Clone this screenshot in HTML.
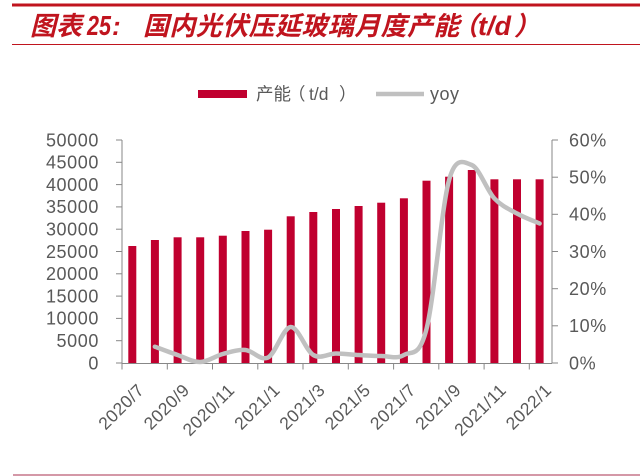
<!DOCTYPE html>
<html><head><meta charset="utf-8"><style>
html,body{margin:0;padding:0;background:#fff;}
svg{display:block;}
.t{font-family:"Liberation Sans","Noto Sans CJK SC",sans-serif;fill:#595959;}
.ti{font-family:"Liberation Sans","Noto Sans CJK SC",sans-serif;fill:#c0141e;font-weight:bold;font-style:italic;}
</style></head><body>
<svg width="640" height="476" viewBox="0 0 640 476" xmlns="http://www.w3.org/2000/svg">
<rect x="0" y="0" width="640" height="476" fill="#fff"/>
<!-- header lines -->
<rect x="12" y="3.5" width="628" height="3" fill="#c0141e"/>
<rect x="12" y="44" width="628" height="1" fill="#c0141e"/>
<rect x="13" y="474.5" width="627" height="1" fill="#a8324f"/>
<!-- title -->
<text class="ti" x="30" y="35" font-size="26">图表</text>
<text class="ti" transform="translate(87,35) scale(0.77,1)" font-size="28">25</text>
<text class="ti" x="112" y="35" font-size="26">:</text>
<text class="ti" x="143" y="35" font-size="26" letter-spacing="0.4">国内光伏压延玻璃月度产能</text>
<text class="ti" x="452" y="35" font-size="26">（</text>
<text class="ti" x="478" y="35" font-size="27">t/d</text>
<text class="ti" x="514" y="35" font-size="26">）</text>
<!-- legend -->
<rect x="198" y="90" width="49" height="8" fill="#c0002f"/>
<text class="t" x="256" y="100" font-size="17.5">产能</text>
<text class="t" x="288" y="100" font-size="17.5">（</text>
<text class="t" x="309" y="100" font-size="17.5">t/d</text>
<text class="t" x="339" y="100" font-size="17.5">）</text>
<line x1="376" y1="94" x2="424" y2="94" stroke="#c0c0c0" stroke-width="4.5"/>
<text class="t" x="430" y="100" font-size="18" letter-spacing="0.5">yoy</text>
<!-- bars -->
<g fill="#c0002f">
<rect x="128.3" y="246" width="8" height="117"/>
<rect x="150.9" y="240" width="8" height="123"/>
<rect x="173.6" y="237.3" width="8" height="125.7"/>
<rect x="196.2" y="237.3" width="8" height="125.7"/>
<rect x="218.8" y="235.7" width="8" height="127.3"/>
<rect x="241.5" y="231" width="8" height="132"/>
<rect x="264.1" y="229.7" width="8" height="133.3"/>
<rect x="286.7" y="216.3" width="8" height="146.7"/>
<rect x="309.3" y="212" width="8" height="151"/>
<rect x="332.0" y="209" width="8" height="154"/>
<rect x="354.6" y="206" width="8" height="157"/>
<rect x="377.2" y="202.7" width="8" height="160.3"/>
<rect x="399.9" y="198.3" width="8" height="164.7"/>
<rect x="422.5" y="180.7" width="8" height="182.3"/>
<rect x="445.1" y="176.7" width="8" height="186.3"/>
<rect x="467.8" y="170" width="8" height="193"/>
<rect x="490.4" y="179.3" width="8" height="183.7"/>
<rect x="513.0" y="179.3" width="8" height="183.7"/>
<rect x="535.6" y="179.3" width="8" height="183.7"/>
</g>
<!-- axes -->
<g stroke="#878787" stroke-width="1" fill="none">
<line x1="122" y1="140" x2="122" y2="363.5"/>
<line x1="552" y1="140" x2="552" y2="363.5"/>
<line x1="122" y1="363.5" x2="552" y2="363.5"/>
<line x1="116" y1="140" x2="122" y2="140"/>
<line x1="116" y1="162.3" x2="122" y2="162.3"/>
<line x1="116" y1="184.6" x2="122" y2="184.6"/>
<line x1="116" y1="206.9" x2="122" y2="206.9"/>
<line x1="116" y1="229.2" x2="122" y2="229.2"/>
<line x1="116" y1="251.5" x2="122" y2="251.5"/>
<line x1="116" y1="273.8" x2="122" y2="273.8"/>
<line x1="116" y1="296.1" x2="122" y2="296.1"/>
<line x1="116" y1="318.4" x2="122" y2="318.4"/>
<line x1="116" y1="340.7" x2="122" y2="340.7"/>
<line x1="116" y1="363" x2="122" y2="363"/>
<line x1="552" y1="140" x2="558" y2="140"/>
<line x1="552" y1="177.2" x2="558" y2="177.2"/>
<line x1="552" y1="214.3" x2="558" y2="214.3"/>
<line x1="552" y1="251.5" x2="558" y2="251.5"/>
<line x1="552" y1="288.7" x2="558" y2="288.7"/>
<line x1="552" y1="325.8" x2="558" y2="325.8"/>
<line x1="552" y1="363" x2="558" y2="363"/>
<line x1="122" y1="363.5" x2="122" y2="369.5"/>
<line x1="167.3" y1="363.5" x2="167.3" y2="369.5"/>
<line x1="212.5" y1="363.5" x2="212.5" y2="369.5"/>
<line x1="257.8" y1="363.5" x2="257.8" y2="369.5"/>
<line x1="303.0" y1="363.5" x2="303.0" y2="369.5"/>
<line x1="348.3" y1="363.5" x2="348.3" y2="369.5"/>
<line x1="393.6" y1="363.5" x2="393.6" y2="369.5"/>
<line x1="438.8" y1="363.5" x2="438.8" y2="369.5"/>
<line x1="484.1" y1="363.5" x2="484.1" y2="369.5"/>
<line x1="529.3" y1="363.5" x2="529.3" y2="369.5"/>
</g>
<!-- yoy line -->
<path d="M154.9,346.7 C158.7,348.1 170.1,352.5 177.6,355 C185.1,357.6 192.7,362.2 200.2,362 C207.7,361.8 215.3,356 222.8,354 C230.3,352 238.0,349.4 245.5,350 C253.0,350.6 260.6,361.3 268.1,357.5 C275.6,353.7 283.2,327.4 290.7,327 C298.2,326.6 305.8,350.6 313.3,355 C320.8,359.4 328.5,353.5 336,353.5 C343.5,353.5 351.1,354.6 358.6,355 C366.1,355.4 373.7,356 381.2,356 C388.7,356 396.4,359.5 403.9,355 C411.4,350.5 419.0,358.7 426.5,329 C434.0,299.8 441.6,207.2 449.1,180 C455.6,156 463.3,161.9 471.8,165 C479.3,168.1 486.9,190.6 494.4,198.5 C501.9,206.4 509.5,209.3 517,213.5 C524.5,217.7 535.8,221.8 539.6,223.5" fill="none" stroke="#c0c0c0" stroke-width="4.5" stroke-linecap="round" stroke-linejoin="round"/>
<!-- left labels -->
<g class="t" font-size="18" letter-spacing="0.6" text-anchor="end">
<text x="99" y="146.3">50000</text>
<text x="99" y="168.6">45000</text>
<text x="99" y="190.9">40000</text>
<text x="99" y="213.2">35000</text>
<text x="99" y="235.5">30000</text>
<text x="99" y="257.8">25000</text>
<text x="99" y="280.1">20000</text>
<text x="99" y="302.4">15000</text>
<text x="99" y="324.7">10000</text>
<text x="99" y="347.0">5000</text>
<text x="99" y="369.3">0</text>
</g>
<!-- right labels -->
<g class="t" font-size="18" letter-spacing="0.6">
<text x="569" y="146.3">60%</text>
<text x="569" y="183.5">50%</text>
<text x="569" y="220.6">40%</text>
<text x="569" y="257.8">30%</text>
<text x="569" y="295.0">20%</text>
<text x="569" y="332.1">10%</text>
<text x="569" y="369.3">0%</text>
</g>
<!-- x labels -->
<g class="t" font-size="17.5" letter-spacing="0.4" text-anchor="end">
<text transform="translate(136,382) rotate(-45)" y="13">2020/7</text>
<text transform="translate(181.3,382) rotate(-45)" y="13">2020/9</text>
<text transform="translate(226.5,382) rotate(-45)" y="13">2020/11</text>
<text transform="translate(271.8,382) rotate(-45)" y="13">2021/1</text>
<text transform="translate(317,382) rotate(-45)" y="13">2021/3</text>
<text transform="translate(362.3,382) rotate(-45)" y="13">2021/5</text>
<text transform="translate(407.6,382) rotate(-45)" y="13">2021/7</text>
<text transform="translate(452.8,382) rotate(-45)" y="13">2021/9</text>
<text transform="translate(498.1,382) rotate(-45)" y="13">2021/11</text>
<text transform="translate(543.3,382) rotate(-45)" y="13">2022/1</text>
</g>
</svg>
</body></html>
